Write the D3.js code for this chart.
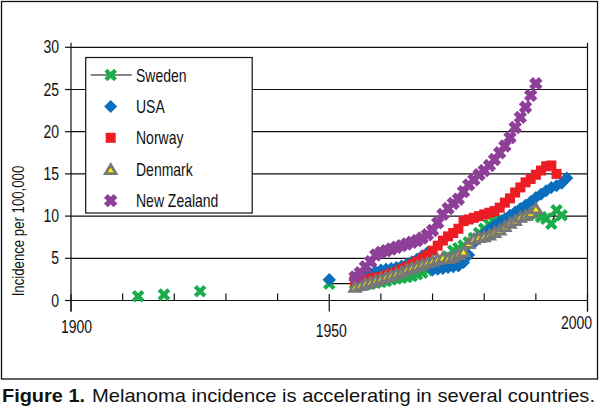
<!DOCTYPE html>
<html>
<head>
<meta charset="utf-8">
<script src="https://cdn.jsdelivr.net/npm/d3@7"></script>
<style>
  body { margin: 0; background: #fff; }
  svg { display: block; }
  text { font-family: "Liberation Sans", Arial, sans-serif; fill: #111; }
</style>
</head>
<body>
<div id="graphic"></div>
<script>
var graphic = new Object;

// [year, incidence per 100,000]; null marks a gap in the Sweden line
var sweden = [[1913, 0.5], [1914, null], [1918, 0.7], [1919, null], [1925, 1.1], [1926, null],
  [1950, 2.0], [1955, 2.0], [1956, 1.8], [1957, 1.9], [1958, 2.0], [1959, 2.1], [1960, 2.2],
  [1961, 2.3], [1962, 2.5], [1963, 2.6], [1964, 2.7], [1965, 2.8], [1966, 2.9], [1967, 3.1],
  [1968, 3.3], [1969, 3.6], [1970, 3.9], [1971, 4.3], [1972, 4.6], [1973, 5.2], [1974, 5.9],
  [1975, 6.2], [1976, 6.5], [1977, 6.9], [1978, 7.4], [1979, 8.0], [1980, 8.5], [1981, 9.0],
  [1982, 9.3], [1983, 9.4], [1984, 9.5], [1985, 9.6], [1986, 9.8], [1987, 10.0], [1988, 10.2],
  [1989, 10.4], [1990, 10.2], [1991, 9.9], [1992, 9.7], [1993, 9.1], [1994, 10.7], [1995, 10.1]];

var usa = [[1950, 2.5], [1955, 2.7], [1956, 2.9], [1957, 3.0], [1958, 3.2], [1959, 3.4],
  [1960, 3.6], [1961, 3.7], [1962, 3.8], [1963, 3.9], [1964, 4.1], [1965, 4.3], [1966, 4.6],
  [1967, 4.9], [1968, 5.3], [1969, 5.7], [1970, 3.6], [1971, 3.7], [1972, 3.8], [1973, 3.9],
  [1974, 4.0], [1975, 4.1], [1976, 4.5], [1977, 5.4], [1978, 6.8], [1979, 7.5], [1980, 7.9],
  [1981, 8.4], [1982, 8.9], [1983, 9.3], [1984, 9.7], [1985, 10.1], [1986, 10.5], [1987, 10.9],
  [1988, 11.3], [1989, 11.7], [1990, 12.2], [1991, 12.6], [1992, 13.0], [1993, 13.4],
  [1994, 13.6], [1995, 13.9], [1996, 14.5]];

var norway = [[1955, 2.3], [1956, 2.4], [1957, 2.5], [1958, 2.6], [1959, 2.7], [1960, 2.8],
  [1961, 3.0], [1962, 3.2], [1963, 3.4], [1964, 3.7], [1965, 4.0], [1966, 4.3], [1967, 4.6],
  [1968, 5.0], [1969, 5.4], [1970, 5.9], [1971, 6.5], [1972, 7.1], [1973, 7.6], [1974, 8.0],
  [1975, 8.5], [1976, 9.4], [1977, 9.6], [1978, 9.8], [1979, 10.0], [1980, 10.2], [1981, 10.4],
  [1982, 10.6], [1983, 11.0], [1984, 11.6], [1985, 12.1], [1986, 12.8], [1987, 13.4],
  [1988, 14.0], [1989, 14.4], [1990, 14.9], [1991, 15.4], [1992, 15.9], [1993, 16.0], [1994, 15.0]];

var denmark = [[1955, 1.6], [1956, 1.8], [1957, 2.0], [1958, 2.2], [1959, 2.4], [1960, 2.6],
  [1961, 2.8], [1962, 3.0], [1963, 3.2], [1964, 3.4], [1965, 3.7], [1966, 3.9], [1967, 4.1],
  [1968, 4.3], [1969, 4.5], [1970, 4.7], [1971, 4.9], [1972, 5.1], [1973, 5.0], [1974, 5.2],
  [1975, 5.5], [1976, 5.8], [1977, 6.8], [1978, 7.3], [1979, 7.5], [1980, 7.6], [1981, 7.8],
  [1982, 8.1], [1983, 8.4], [1984, 8.8], [1985, 9.2], [1986, 9.5], [1987, 9.9], [1988, 10.1],
  [1989, 10.4], [1990, 10.9]];

var newZealand = [[1955, 2.8], [1956, 3.3], [1957, 4.0], [1958, 4.6], [1959, 5.4], [1960, 5.7],
  [1961, 5.9], [1962, 6.1], [1963, 6.3], [1964, 6.5], [1965, 6.7], [1966, 6.9], [1967, 7.1],
  [1968, 7.4], [1969, 7.8], [1970, 8.3], [1971, 9.2], [1972, 10.2], [1973, 10.9], [1974, 11.5],
  [1975, 12.0], [1976, 12.9], [1977, 13.7], [1978, 14.3], [1979, 14.9], [1980, 15.4],
  [1981, 16.0], [1982, 16.7], [1983, 17.5], [1984, 18.3], [1985, 19.3], [1986, 20.5],
  [1987, 21.7], [1988, 22.9], [1989, 24.3], [1990, 25.7]];

var seriesNames = ["Sweden", "USA", "Norway", "Denmark", "New Zealand"];
var yTicks = [0, 5, 10, 15, 20, 25, 30];
var xMajor = [1900, 1950, 2000];
var xMinor = [1910, 1920, 1930, 1940, 1960, 1970, 1980, 1990];

graphic.create = function() {
  var svg, x, y, plot, series, legend, line;

  svg = d3.select("#graphic").append("svg").attr("width", 600).attr("height", 408);

  x = d3.scaleLinear().domain([1900, 2000]).range([71, 587.5]);
  y = d3.scaleLinear().domain([0, 30]).range([300.5, 47.3]);

  // condensed look: squeeze a normal sans horizontally around its anchor
  function narrow(parent, px, py, str, size, anchor, rot) {
    var g = parent.append("g")
      .attr("transform", "translate(" + px + "," + py + ")" + (rot ? " rotate(" + rot + ")" : "") + " scale(0.8,1)");
    return g.append("text").attr("text-anchor", anchor || "start").attr("font-size", size).text(str);
  }

  // outer frame
  svg.append("rect").attr("x", 1.5).attr("y", 1.5).attr("width", 596).attr("height", 377.5)
    .attr("fill", "none").attr("stroke", "#111").attr("stroke-width", 1.3);

  plot = svg.append("g");

  plot.selectAll("line.grid").data(yTicks).enter().append("line")
    .attr("x1", x(1900)).attr("x2", x(2000))
    .attr("y1", function(d) { return y(d); }).attr("y2", function(d) { return y(d); })
    .attr("stroke", "#111").attr("stroke-width", 1.2);

  // y axis line + right edge line
  [1900, 2000].forEach(function(v) {
    plot.append("line").attr("x1", x(v)).attr("x2", x(v))
      .attr("y1", y(30) - 4.6).attr("y2", y(0) + 11)
      .attr("stroke", "#111").attr("stroke-width", 1.2);
  });

  plot.selectAll("line.ytick").data(yTicks).enter().append("line")
    .attr("x1", x(1900) - 6).attr("x2", x(1900))
    .attr("y1", function(d) { return y(d); }).attr("y2", function(d) { return y(d); })
    .attr("stroke", "#111").attr("stroke-width", 1.2);

  yTicks.forEach(function(d) { narrow(plot, 59, y(d) + 6, d, 17.5, "end"); });

  plot.selectAll("line.xminor").data(xMinor).enter().append("line")
    .attr("x1", function(d) { return x(d); }).attr("x2", function(d) { return x(d); })
    .attr("y1", y(0) - 7).attr("y2", y(0))
    .attr("stroke", "#111").attr("stroke-width", 1.2);

  plot.selectAll("line.xmajor").data(xMajor).enter().append("line")
    .attr("x1", function(d) { return x(d); }).attr("x2", function(d) { return x(d); })
    .attr("y1", y(0) - 6.5).attr("y2", y(0) + 11)
    .attr("stroke", "#111").attr("stroke-width", 1.2);

  // excel nudges the end labels inward
  xMajor.forEach(function(d, i) {
    narrow(plot, x(d) + [5.5, 2, -11][i], [333, 337, 328.5][i], d, 17.5, "middle");
  });

  narrow(svg, 24, 231, "Incidence per 100,000", 16.5, "middle", -90);

  function xMark(g, color, w) {
    g.append("path").attr("d", "M-4.8,-4.8L4.8,4.8M-4.8,4.8L4.8,-4.8")
      .attr("stroke", color).attr("stroke-width", w).attr("fill", "none");
  }
  var painters = {
    Sweden: function(g) { xMark(g, "#19ad4b", 4.2); },
    USA: function(g) {
      g.append("path").attr("d", "M0,-6.5L6.5,0L0,6.5L-6.5,0Z").attr("fill", "#0a6ebd");
    },
    Norway: function(g) {
      g.append("rect").attr("x", -5).attr("y", -5).attr("width", 10).attr("height", 10)
        .attr("fill", "#ec1c24");
    },
    Denmark: function(g) {
      g.append("path").attr("d", "M0,-4.5L5.3,4.4L-5.3,4.4Z").attr("fill", "#fff200")
        .attr("stroke", "#777777").attr("stroke-width", 2.8).attr("stroke-linejoin", "miter");
    },
    "New Zealand": function(g) { xMark(g, "#8e3f98", 5.4); }
  };

  line = d3.line()
    .defined(function(d) { return d[1] !== null; })
    .x(function(d) { return x(d[0]); })
    .y(function(d) { return y(d[1]); });

  series = [sweden, usa, norway, denmark, newZealand];
  series.forEach(function(data, i) {
    var g = plot.append("g"), name = seriesNames[i];
    if (name === "Sweden") {
      g.append("path").attr("d", line(data)).attr("fill", "none")
        .attr("stroke", "#111").attr("stroke-width", 1.2);
    }
    g.selectAll("g.pt").data(data.filter(function(d) { return d[1] !== null; }))
      .enter().append("g")
      .attr("transform", function(d) { return "translate(" + x(d[0]) + "," + y(d[1]) + ")"; })
      .each(function() { painters[name](d3.select(this)); });
  });

  // legend
  legend = svg.append("g");
  legend.append("rect").attr("x", 85.7).attr("y", 57.5).attr("width", 166.5).attr("height", 155.5)
    .attr("fill", "#fff").attr("stroke", "#111").attr("stroke-width", 1.2);
  seriesNames.forEach(function(name, i) {
    var cy = 75 + i * 31.4, item = legend.append("g");
    if (name === "Sweden") {
      item.append("line").attr("x1", 90.7).attr("x2", 131.7).attr("y1", cy).attr("y2", cy)
        .attr("stroke", "#111").attr("stroke-width", 1.2);
    }
    painters[name](item.append("g").attr("transform", "translate(110.7," + cy + ")"));
    narrow(item, 136, cy + 6.5, name, 17.5, "start");
  });

  // caption: bold label and regular sentence, fitted to the reference widths
  svg.append("text").attr("x", 2).attr("y", 402).attr("font-size", 18.5).attr("font-weight", "bold")
    .attr("textLength", 83).attr("lengthAdjust", "spacingAndGlyphs").text("Figure 1.");
  svg.append("text").attr("x", 92).attr("y", 402).attr("font-size", 18.5)
    .attr("textLength", 503).attr("lengthAdjust", "spacingAndGlyphs")
    .text("Melanoma incidence is accelerating in several countries.");
};

graphic.create();
</script>
</body>
</html>
